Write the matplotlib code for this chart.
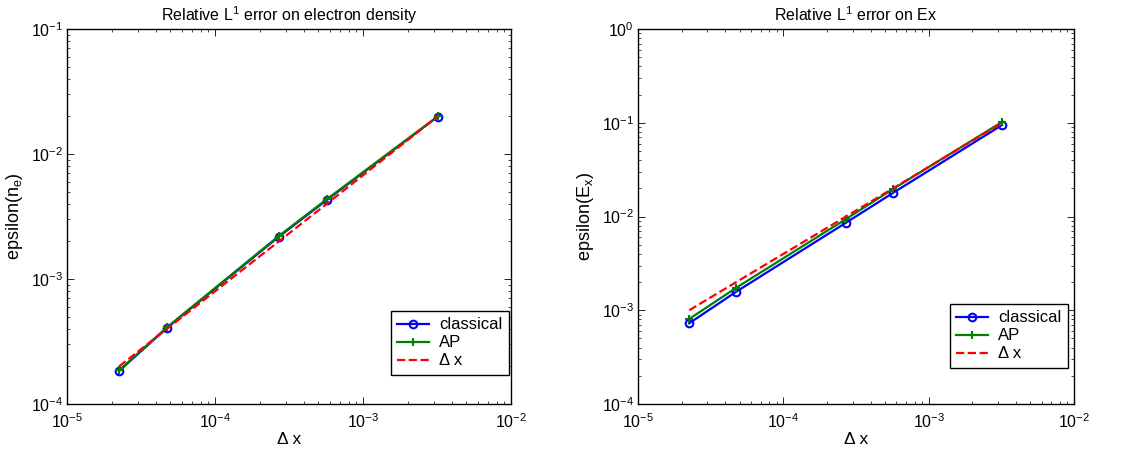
import numpy as np
import matplotlib
matplotlib.use("Agg")
import matplotlib.pyplot as plt
from matplotlib.ticker import LogLocator, NullFormatter

plt.rcParams['font.family'] = ['Liberation Sans', 'DejaVu Sans']
plt.rcParams['mathtext.default'] = 'regular'

# mesh sizes
dx = [2.25e-5, 4.75e-5, 2.7e-4, 5.7e-4, 3.2e-3]

# left panel: electron density
ne_classical = [1.84e-4, 4.08e-4, 2.18e-3, 4.29e-3, 1.99e-2]
ne_ap = [1.86e-4, 4.12e-4, 2.21e-3, 4.35e-3, 2.0e-2]
ne_ref = [2.0e-4, 4.0e-4, 2.0e-3, 4.0e-3, 2.0e-2]

# right panel: Ex
ex_classical = [7.26e-4, 1.58e-3, 8.59e-3, 1.79e-2, 9.46e-2]
ex_ap = [8.07e-4, 1.74e-3, 9.4e-3, 1.97e-2, 1.02e-1]
ex_ref = [1.0e-3, 2.0e-3, 1.0e-2, 2.0e-2, 1.0e-1]

titles = [r'Relative L$^1$ error on electron density', r'Relative L$^1$ error on Ex']
ylabels = [r'epsilon(n$_e$)', r'epsilon(E$_x$)']
ylims = [(1e-4, 1e-1), (1e-4, 1e0)]

fig = plt.figure(figsize=(11.34, 4.53), dpi=100)
ax1 = fig.add_axes([67 / 1134, 1 - 404 / 453, 444 / 1134, 375 / 453])
ax2 = fig.add_axes([638 / 1134, 1 - 404 / 453, 436 / 1134, 375 / 453])

panels = [(ax1, ne_classical, ne_ap, ne_ref, (0.995, 0.077)),
          (ax2, ex_classical, ex_ap, ex_ref, (0.986, 0.096))]

for i, (ax, cl, ap, ref, anchor) in enumerate(panels):
    ax.loglog(dx, cl, '-o', color='#0000ff', lw=1.6, ms=5.5, mfc='none', mew=1.5, label='classical')
    ax.loglog(dx, ap, '-+', color='#008000', lw=1.6, ms=6, mew=1.5, label='AP')
    ax.loglog(dx, ref, '--', color='#ff0000', lw=1.6, label='Δ x')
    ax.set_xlim(1e-5, 1e-2)
    ax.set_ylim(*ylims[i])
    ax.set_title(titles[i], fontsize=11.5, pad=6)
    ax.set_xlabel('Δ x', fontsize=12.5, labelpad=1)
    ax.set_ylabel(ylabels[i], fontsize=13, labelpad=4)
    ax.xaxis.set_major_locator(LogLocator(base=10, numticks=10))
    ax.yaxis.set_major_locator(LogLocator(base=10, numticks=10))
    ax.xaxis.set_minor_locator(LogLocator(base=10, subs=np.arange(2, 10), numticks=20))
    ax.yaxis.set_minor_locator(LogLocator(base=10, subs=np.arange(2, 10), numticks=20))
    ax.xaxis.set_minor_formatter(NullFormatter())
    ax.yaxis.set_minor_formatter(NullFormatter())
    ax.tick_params(which='both', direction='in', top=True, right=True, labelsize=11.5)
    ax.tick_params(axis='x', which='major', pad=6)
    ax.tick_params(axis='y', which='major', pad=3)
    ax.tick_params(which='major', length=5, width=0.6)
    ax.tick_params(which='minor', length=2.5, width=0.5)
    for s in ax.spines.values():
        s.set_linewidth(1.0)
    leg = ax.legend(loc='lower right', bbox_to_anchor=anchor, fontsize=12,
                    fancybox=False, framealpha=1, edgecolor='black',
                    handlelength=1.9, borderpad=0.4, labelspacing=0.18,
                    handletextpad=0.6, borderaxespad=0)
    leg.get_frame().set_linewidth(1.0)

fig.savefig('out.png', dpi=100)
